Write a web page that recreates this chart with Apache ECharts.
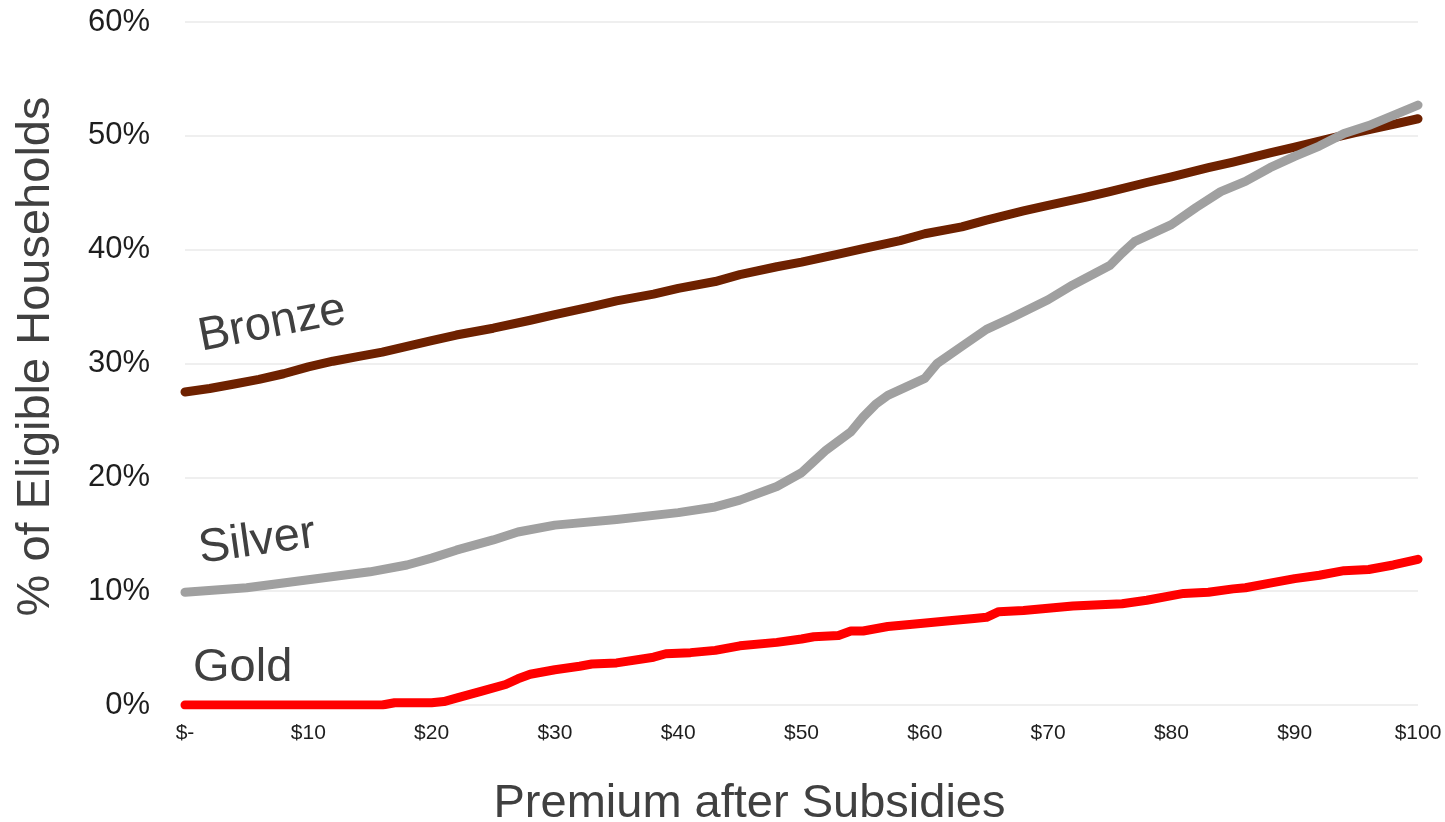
<!DOCTYPE html>
<html>
<head>
<meta charset="utf-8">
<script src="https://cdn.jsdelivr.net/npm/echarts@6/dist/echarts.min.js"></script>
<style>
  html, body { margin: 0; padding: 0; background: #ffffff; }
  #chart { width: 1445px; height: 822px; }
</style>
</head>
<body>
<div id="chart"></div>
<script>
// Share of eligible households by premium paid after subsidies ($ per month)
const xTicks = [0, 10, 20, 30, 40, 50, 60, 70, 80, 90, 100];
const yTicks = [0, 10, 20, 30, 40, 50, 60];

const bronzePremium = [0, 2, 4, 6, 8, 10, 12, 14, 16, 18, 20, 22, 25, 28, 30, 33, 35, 38, 40, 43, 45, 48, 50, 53, 55, 58, 60, 63, 65, 68, 70, 73, 75, 78, 80, 83, 85, 88, 90, 93, 95, 98, 100];
const bronzeShare = [27.5, 27.8, 28.2, 28.6, 29.1, 29.7, 30.2, 30.6, 31.0, 31.5, 32.0, 32.5, 33.1, 33.8, 34.3, 35.0, 35.5, 36.1, 36.6, 37.2, 37.8, 38.5, 38.9, 39.6, 40.1, 40.8, 41.4, 42.0, 42.6, 43.4, 43.9, 44.6, 45.1, 45.9, 46.4, 47.2, 47.7, 48.5, 49.0, 49.8, 50.3, 51.0, 51.5];

const silverPremium = [0, 5, 10, 15, 18, 20, 22, 25, 27, 30, 35, 40, 43, 45, 48, 50, 51, 52, 54, 55, 56, 57, 60, 61, 63, 65, 67, 70, 72, 75, 76, 77, 80, 82, 84, 86, 88, 90, 92, 94, 96, 98, 100];
const silverShare = [9.9, 10.3, 11.0, 11.7, 12.3, 12.9, 13.6, 14.5, 15.2, 15.8, 16.3, 16.9, 17.4, 18.0, 19.2, 20.4, 21.4, 22.4, 24.0, 25.3, 26.4, 27.2, 28.7, 30.0, 31.5, 33.0, 34.0, 35.6, 36.9, 38.6, 39.7, 40.7, 42.2, 43.7, 45.1, 46.0, 47.2, 48.2, 49.1, 50.2, 50.9, 51.8, 52.7];

const goldPremium = [0, 16, 17, 20, 21, 22, 24, 26, 27, 28, 30, 32, 33, 35, 38, 39, 41, 43, 44, 45, 48, 50, 51, 53, 54, 55, 57, 59, 62, 64, 65, 66, 68, 70, 72, 76, 78, 81, 83, 85, 86, 88, 90, 92, 94, 96, 98, 100];
const goldShare = [0, 0, 0.2, 0.2, 0.3, 0.6, 1.2, 1.8, 2.3, 2.7, 3.1, 3.4, 3.6, 3.7, 4.2, 4.5, 4.6, 4.8, 5.0, 5.2, 5.5, 5.8, 6.0, 6.1, 6.5, 6.5, 6.9, 7.1, 7.4, 7.6, 7.7, 8.2, 8.3, 8.5, 8.7, 8.9, 9.2, 9.8, 9.9, 10.2, 10.3, 10.7, 11.1, 11.4, 11.8, 11.9, 12.3, 12.8];

const seriesNames = ['Bronze', 'Silver', 'Gold'];
const seriesColors = ['#6e2100', '#a0a0a0', '#ff0000'];

const pairs = (xs, ys) => xs.map((x, i) => [x, ys[i]]);

const FONT = '"Liberation Sans", Arial, sans-serif';
const chart = echarts.init(document.getElementById('chart'), null, { renderer: 'canvas' });

const lineSeries = [
  pairs(bronzePremium, bronzeShare),
  pairs(silverPremium, silverShare),
  pairs(goldPremium, goldShare)
].map((data, i) => ({
  name: seriesNames[i],
  type: 'line',
  data: data,
  showSymbol: false,
  symbol: 'none',
  smooth: false,
  lineStyle: { color: seriesColors[i], width: 9, cap: 'round', join: 'round' },
  z: i === 0 ? 2 : 3,
  animation: false
}));

chart.setOption({
  backgroundColor: '#ffffff',
  animation: false,
  grid: { left: 185, right: 27, top: 22, bottom: 117, containLabel: false, outerBoundsMode: 'none' },
  xAxis: {
    type: 'value',
    min: xTicks[0],
    max: xTicks[xTicks.length - 1],
    interval: 10,
    name: 'Premium after Subsidies',
    nameLocation: 'middle',
    nameGap: 76,
    nameTextStyle: { fontFamily: FONT, fontSize: 47, color: '#404040', padding: [0, 104, 0, 0] },
    axisLine: { show: false },
    axisTick: { show: false },
    splitLine: { show: false },
    axisLabel: {
      fontFamily: FONT, fontSize: 21, color: '#1e1e1e', margin: 18,
      formatter: v => (v === 0 ? '$-' : '$' + v)
    }
  },
  yAxis: {
    type: 'value',
    min: yTicks[0],
    max: yTicks[yTicks.length - 1],
    interval: 10,
    name: '% of Eligible Households',
    nameLocation: 'middle',
    nameGap: 125,
    nameTextStyle: { fontFamily: FONT, fontSize: 47, color: '#404040', padding: [0, 0, 0, 14] },
    axisLine: { show: false },
    axisTick: { show: false },
    splitLine: { lineStyle: { color: '#efefef', width: 2 } },
    axisLabel: {
      fontFamily: FONT, fontSize: 31, color: '#1e1e1e', margin: 35,
      formatter: v => v + '%'
    }
  },
  graphic: [
    { type: 'text', x: 199, y: 338, rotation: 11 * Math.PI / 180,
      style: { text: seriesNames[0], font: '47px ' + FONT, fill: '#404040', textAlign: 'left', textVerticalAlign: 'middle' } },
    { type: 'text', x: 199, y: 550, rotation: 8 * Math.PI / 180,
      style: { text: seriesNames[1], font: '47px ' + FONT, fill: '#404040', textAlign: 'left', textVerticalAlign: 'middle' } },
    { type: 'text', x: 193, y: 668, rotation: 0,
      style: { text: seriesNames[2], font: '47px ' + FONT, fill: '#404040', textAlign: 'left', textVerticalAlign: 'middle' } }
  ],
  series: lineSeries
});
</script>
</body>
</html>
